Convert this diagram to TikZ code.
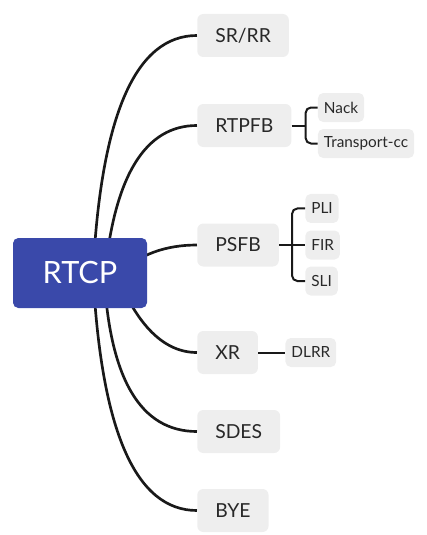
\documentclass[tikz,border=0pt]{standalone}
\usepackage{fontspec}
\setmainfont{Lato}
\definecolor{rootblue}{RGB}{58,73,170}
\definecolor{boxgray}{RGB}{238,238,238}
\definecolor{inkgray}{RGB}{40,40,40}
\usetikzlibrary{positioning, calc, backgrounds}

\begin{document}
\begin{tikzpicture}[
    x=0.75pt, y=-0.75pt,
    topic/.style={rectangle, fill=rootblue, text=white, rounded corners=4pt,
                  minimum width=100.5pt, minimum height=52.5pt,
                  font=\fontsize{23}{26}\selectfont},
    branch/.style={rectangle, fill=boxgray, text=inkgray, rounded corners=4.5pt,
                   minimum height=32.25pt, inner xsep=13.5pt, anchor=west,
                   font=\fontsize{14.5}{17}\selectfont},
    leaf/.style={rectangle, fill=boxgray, text=inkgray, rounded corners=4pt,
                 minimum height=21.75pt, inner xsep=4.5pt,
                 font=\fontsize{11.5}{13}\selectfont},
    link/.style={line width=2pt, black!90},
    twig/.style={line width=1.5pt, black!90}
]
    \useasboundingbox (0,0) rectangle (426,535);

    % central topic and its branches
    \node[topic] (rtcp) at (80,273) {RTCP};
    \node[branch] (srrr)  at (197,35.5)  {SR/RR};
    \node[branch] (rtpfb) at (197,125.5) {RTPFB};
    \node[branch] (psfb)  at (197,245)   {PSFB};
    \node[branch] (xr)    at (197,352.5) {XR};
    \node[branch] (sdes)  at (197,431.5) {SDES};
    \node[branch] (bye)   at (197,510.5) {BYE};

    % sub-topics
    \node[leaf, right=19.5pt of rtpfb, yshift=13.5pt] (nack) {Nack};
    \node[leaf, right=19.5pt of rtpfb, yshift=-13.5pt] (tcc) {Transport-cc};
    \node[leaf, right=19.5pt of psfb, yshift=27.4pt] (pli) {PLI};
    \node[leaf, right=19.5pt of psfb] (fir) {FIR};
    \node[leaf, right=19.5pt of psfb, yshift=-27pt] (sli) {SLI};
    \node[leaf, right=20.25pt of xr] (dlrr) {DLRR};

    \coordinate (rj) at ($(rtpfb.east)+(14,0)$);
    \coordinate (pj) at ($(psfb.east)+(13,0)$);

    \begin{pgfonlayer}{background}
        \draw[link] ($(rtcp.center)+(13,0)$) .. controls (101,114.7) and ($(srrr.west)+(-61.3,0)$) .. (srrr.west);
        \draw[link] ($(rtcp.center)+(25,0)$) .. controls (115,174.7) and ($(rtpfb.west)+(-51.3,0)$) .. (rtpfb.west);
        \draw[link] ($(rtcp.center)+(40,0)$) .. controls (140,254.3) and ($(psfb.west)+(-31.3,0)$) .. (psfb.west);
        \draw[link] ($(rtcp.center)+(36,0)$) .. controls (137.3,326) and ($(xr.west)+(-32.7,0)$) .. (xr.west);
        \draw[link] ($(rtcp.center)+(24,0)$) .. controls (109.3,378.7) and ($(sdes.west)+(-56.7,0)$) .. (sdes.west);
        \draw[link] ($(rtcp.center)+(13,0)$) .. controls (101,431.3) and ($(bye.west)+(-61.3,0)$) .. (bye.west);
    \end{pgfonlayer}

    \draw[twig] (rtpfb.east) -- (rj);
    \draw[twig, rounded corners=4pt] (nack.west) -| (rj) |- (tcc.west);
    \draw[twig] (psfb.east) -- (fir.west);
    \draw[twig, rounded corners=4pt] (pli.west) -| (pj) |- (sli.west);
    \draw[twig] (xr.east) -- (dlrr.west);
\end{tikzpicture}
\end{document}
